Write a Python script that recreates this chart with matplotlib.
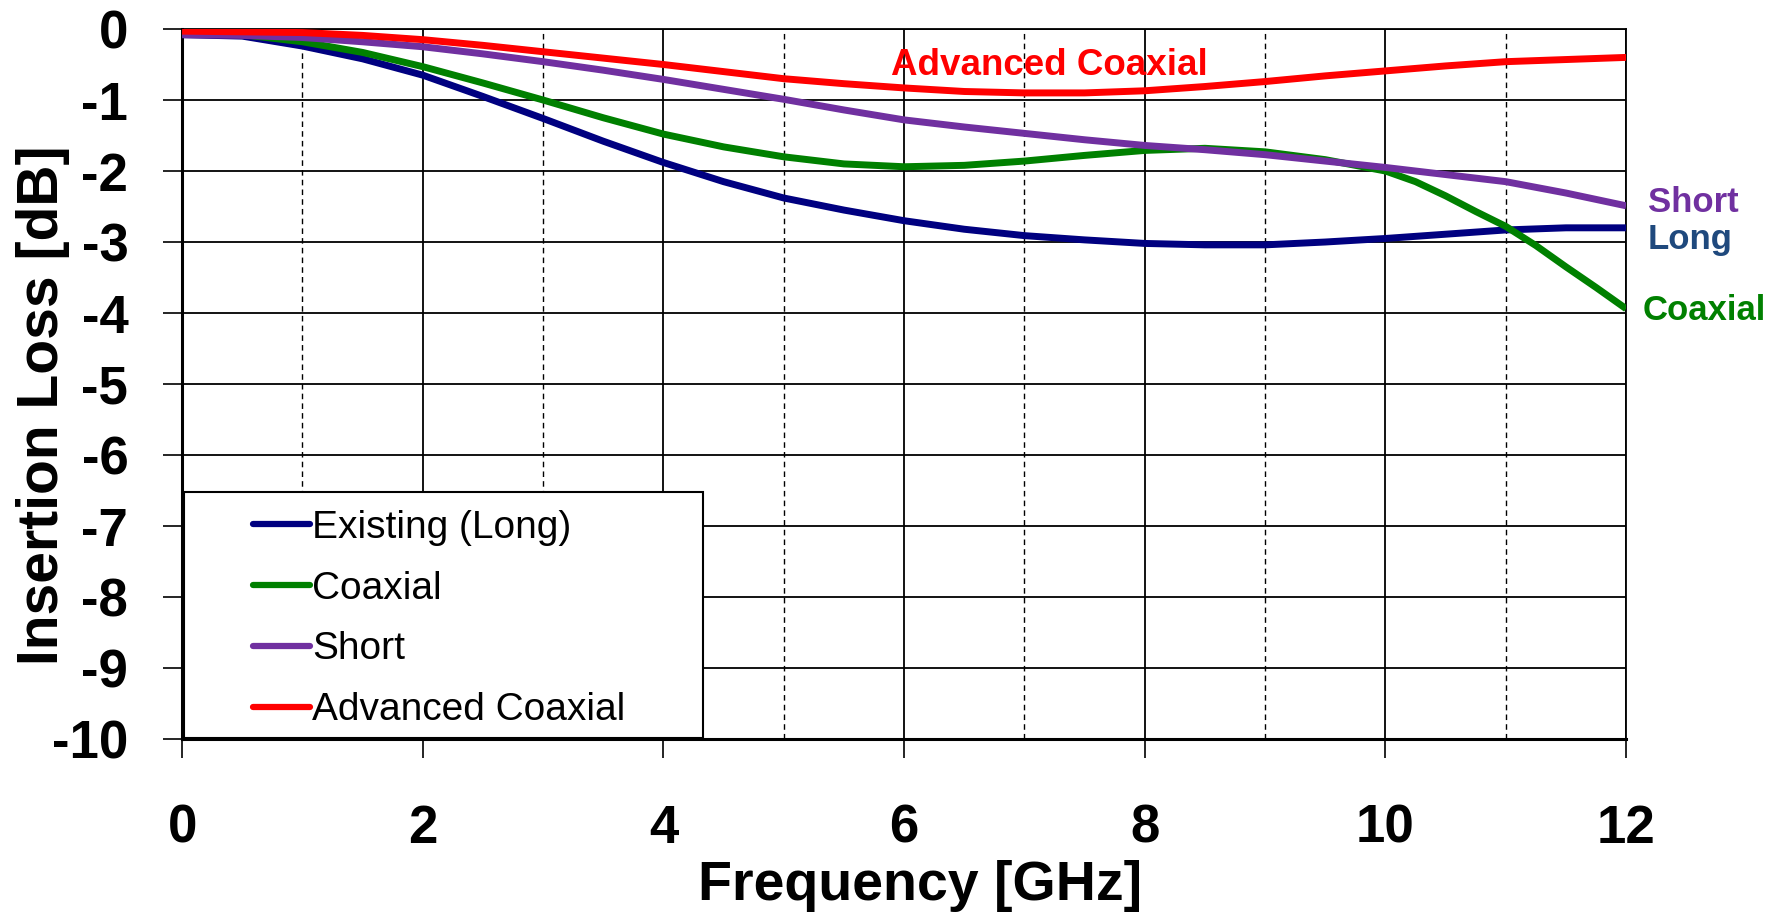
import matplotlib
matplotlib.use("Agg")
import matplotlib.pyplot as plt
from matplotlib.patches import Rectangle

plt.rcParams['font.family'] = ['Liberation Sans', 'DejaVu Sans']
plt.rcParams['axes.unicode_minus'] = False

# frequency points [GHz]
freq = [0, 0.5, 1, 1.5, 2, 2.5, 3, 3.5, 4, 4.5, 5, 5.5, 6, 6.5, 7, 7.5, 8, 8.5,
        9, 9.5, 10, 10.5, 11, 11.5, 12]
# coaxial bends hard near the end, so it is read more finely there
freq_coax = [0, 0.5, 1, 1.5, 2, 2.5, 3, 3.5, 4, 4.5, 5, 5.5, 6, 6.5, 7, 7.5, 8, 8.5,
             9, 9.5, 10, 10.25, 10.5, 10.75, 11, 11.25, 11.5, 11.75, 12]

existing_long = [-0.08, -0.10, -0.24, -0.42, -0.65, -0.95, -1.26, -1.58, -1.88, -2.15,
                 -2.38, -2.55, -2.70, -2.82, -2.91, -2.97, -3.02, -3.04, -3.04, -3.00,
                 -2.95, -2.89, -2.83, -2.80, -2.80]
coaxial = [-0.06, -0.08, -0.18, -0.33, -0.53, -0.76, -1.00, -1.25, -1.48, -1.66,
           -1.80, -1.90, -1.94, -1.92, -1.86, -1.78, -1.71, -1.68, -1.73, -1.84,
           -2.00, -2.15, -2.35, -2.57, -2.78, -3.05, -3.35, -3.64, -3.94]
short = [-0.08, -0.09, -0.12, -0.18, -0.25, -0.35, -0.46, -0.58, -0.71, -0.85,
         -0.99, -1.14, -1.28, -1.38, -1.47, -1.56, -1.64, -1.70, -1.77, -1.86,
         -1.95, -2.05, -2.15, -2.31, -2.49]
adv_coaxial = [-0.03, -0.04, -0.05, -0.09, -0.15, -0.23, -0.32, -0.41, -0.50, -0.60,
               -0.70, -0.77, -0.83, -0.88, -0.90, -0.90, -0.87, -0.81, -0.74, -0.66,
               -0.59, -0.52, -0.46, -0.43, -0.40]

series_names = ["Existing (Long)", "Coaxial", "Short", "Advanced Coaxial"]
series_colors = ["#000080", "#008000", "#7030A0", "#FF0000"]

xticks = [0, 2, 4, 6, 8, 10, 12]
yticks = [0, -1, -2, -3, -4, -5, -6, -7, -8, -9, -10]

fig = plt.figure(figsize=(17.85, 9.15), dpi=100)
ax = fig.add_axes([0.102, 0.1923, 0.809, 0.776])

for xs, vals, name, col in zip([freq, freq_coax, freq, freq],
                               [existing_long, coaxial, short, adv_coaxial],
                               series_names, series_colors):
    ax.plot(xs, vals, color=col, lw=5, label=name, solid_capstyle='butt',
            solid_joinstyle='round', zorder=3)

ax.set_xlim(0, 12)
ax.set_ylim(-10, 0)
ax.set_xticks(xticks)
ax.set_yticks(yticks)
ax.set_xticks(range(1, 12, 2), minor=True)
ax.tick_params(axis='both', which='major', direction='out', length=13.7, width=1.2,
               labelsize=38)
ax.tick_params(axis='x', which='major', pad=33)
ax.tick_params(axis='y', which='major', pad=25)
ax.tick_params(axis='x', which='minor', length=0)
for lab in ax.get_xticklabels() + ax.get_yticklabels():
    lab.set_fontweight('bold')

ax.grid(which='major', color='black', lw=1.3, ls='-', zorder=1)
ax.grid(which='minor', axis='x', color='black', lw=1.0, ls=(0, (4, 3)), zorder=1)
ax.set_axisbelow(True)
for side in ['left', 'bottom']:
    ax.spines[side].set_linewidth(2.2)
for side in ['top', 'right']:
    ax.spines[side].set_linewidth(1.3)

ax.set_xlabel("Frequency [GHz]", fontsize=40, fontweight='bold', va='center')
ax.xaxis.set_label_coords(0.511, -0.207)
ax.set_ylabel("Insertion Loss [dB]", fontsize=41, fontweight='bold', va='center')
ax.yaxis.set_label_coords(-0.096, 0.47)

# legend box (wider than its content, like the original)
ax.add_patch(Rectangle((0.017, -9.99), 4.31, 3.47, transform=ax.transData,
                       facecolor='white', edgecolor='black', lw=1.5, zorder=4.5))
leg = ax.legend(loc='upper left', bbox_to_anchor=(0.59, -6.77), bbox_transform=ax.transData,
                frameon=False, fontsize=28, handlelength=1.46, handletextpad=0.05,
                borderpad=0, borderaxespad=0, labelspacing=0.64)
leg.set_zorder(5)
for h in leg.get_lines():
    h.set_linewidth(4.5)
    h.set_solid_capstyle('round')

# direct labels
ax.text(12.18, -2.45, "Short", color="#7030A0", fontsize=25, fontweight='bold',
        ha='left', va='center', clip_on=False)
ax.text(12.18, -2.97, "Long", color="#1F497D", fontsize=25, fontweight='bold',
        ha='left', va='center', clip_on=False)
ax.text(12.14, -3.97, "Coaxial", color="#008000", fontsize=25, fontweight='bold',
        ha='left', va='center', clip_on=False)
ax.text(5.89, -0.51, "Advanced Coaxial", color="#FF0000", fontsize=26.5, fontweight='bold',
        ha='left', va='center')

fig.savefig("out.png", dpi=100)
